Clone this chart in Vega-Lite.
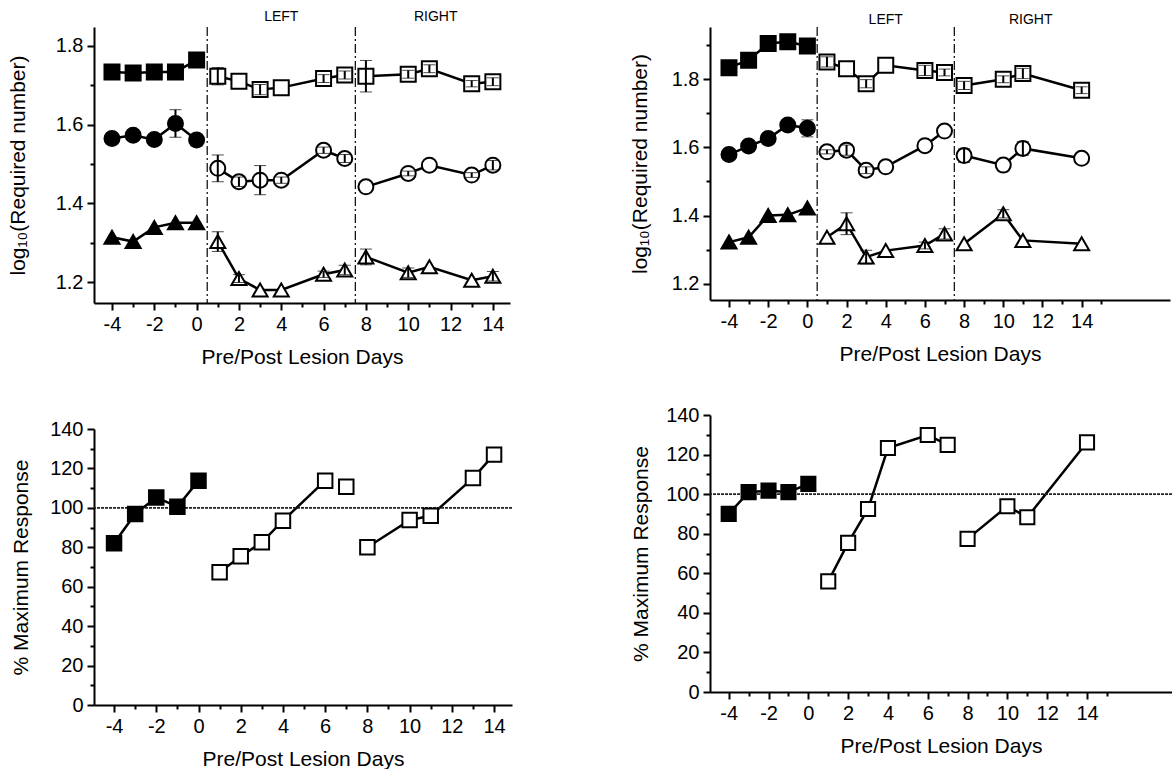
{
  "$schema": "https://vega.github.io/schema/vega-lite/v6.json",
  "background": "white",
  "padding": {"left": 7, "top": 10, "right": 0, "bottom": 0},
  "config": {
    "view": {"stroke": null},
    "font": "Liberation Sans",
    "axis": {
      "grid": false, "domainColor": "black", "domainWidth": 2, "tickColor": "black", "tickWidth": 2,
      "labelColor": "black", "labelFont": "Liberation Sans", "labelFontSize": 20, "labelOverlap": false, "labelFlush": false, "labelBound": false,
      "titleFont": "Liberation Sans", "titleFontSize": 21, "titleFontWeight": "normal", "titleColor": "black", "labelPadding": 4
    }
  },
  "datasets": {
    "seps": [{"x": 0.5}, {"x": 7.5}],
    "ref": [{"v": 100}],
    "tlLabels": [{"x": 4, "label": "LEFT"}, {"x": 11.3, "label": "RIGHT"}],
    "trLabels": [{"x": 4, "label": "LEFT"}, {"x": 11.4, "label": "RIGHT"}],
    "tl": [
      {"day": -4, "v": 1.734, "series": "sq", "phase": "pre", "seg": "pre"},
      {"day": -3, "v": 1.731, "series": "sq", "phase": "pre", "seg": "pre"},
      {"day": -2, "v": 1.734, "series": "sq", "phase": "pre", "seg": "pre"},
      {"day": -1, "v": 1.734, "series": "sq", "phase": "pre", "seg": "pre"},
      {"day": 0, "v": 1.764, "series": "sq", "phase": "pre", "seg": "pre"},
      {"day": 1, "v": 1.723, "series": "sq", "phase": "post", "seg": "left", "lo": 1.701, "hi": 1.745},
      {"day": 2, "v": 1.71, "series": "sq", "phase": "post", "seg": "left"},
      {"day": 3, "v": 1.689, "series": "sq", "phase": "post", "seg": "left", "lo": 1.676, "hi": 1.702},
      {"day": 4, "v": 1.694, "series": "sq", "phase": "post", "seg": "left"},
      {"day": 6, "v": 1.717, "series": "sq", "phase": "post", "seg": "left", "lo": 1.707, "hi": 1.727},
      {"day": 7, "v": 1.726, "series": "sq", "phase": "post", "seg": "left", "lo": 1.716, "hi": 1.736},
      {"day": 8, "v": 1.723, "series": "sq", "phase": "post", "seg": "right", "lo": 1.683, "hi": 1.763},
      {"day": 10, "v": 1.728, "series": "sq", "phase": "post", "seg": "right", "lo": 1.718, "hi": 1.738},
      {"day": 11, "v": 1.742, "series": "sq", "phase": "post", "seg": "right", "lo": 1.732, "hi": 1.752},
      {"day": 13, "v": 1.704, "series": "sq", "phase": "post", "seg": "right", "lo": 1.696, "hi": 1.712},
      {"day": 14, "v": 1.709, "series": "sq", "phase": "post", "seg": "right", "lo": 1.699, "hi": 1.719},
      {"day": -4, "v": 1.565, "series": "ci", "phase": "pre", "seg": "pre"},
      {"day": -3, "v": 1.573, "series": "ci", "phase": "pre", "seg": "pre"},
      {"day": -2, "v": 1.562, "series": "ci", "phase": "pre", "seg": "pre"},
      {"day": -1, "v": 1.603, "series": "ci", "phase": "pre", "seg": "pre", "lo": 1.568, "hi": 1.638},
      {"day": 0, "v": 1.561, "series": "ci", "phase": "pre", "seg": "pre", "lo": 1.546, "hi": 1.576},
      {"day": 1, "v": 1.489, "series": "ci", "phase": "post", "seg": "left", "lo": 1.455, "hi": 1.523},
      {"day": 2, "v": 1.455, "series": "ci", "phase": "post", "seg": "left", "lo": 1.443, "hi": 1.467},
      {"day": 3, "v": 1.459, "series": "ci", "phase": "post", "seg": "left", "lo": 1.422, "hi": 1.496},
      {"day": 4, "v": 1.459, "series": "ci", "phase": "post", "seg": "left", "lo": 1.451, "hi": 1.467},
      {"day": 6, "v": 1.535, "series": "ci", "phase": "post", "seg": "left", "lo": 1.527, "hi": 1.543},
      {"day": 7, "v": 1.514, "series": "ci", "phase": "post", "seg": "left", "lo": 1.504, "hi": 1.524},
      {"day": 8, "v": 1.442, "series": "ci", "phase": "post", "seg": "right"},
      {"day": 10, "v": 1.476, "series": "ci", "phase": "post", "seg": "right", "lo": 1.47, "hi": 1.482},
      {"day": 11, "v": 1.497, "series": "ci", "phase": "post", "seg": "right"},
      {"day": 13, "v": 1.472, "series": "ci", "phase": "post", "seg": "right", "lo": 1.466, "hi": 1.478},
      {"day": 14, "v": 1.497, "series": "ci", "phase": "post", "seg": "right", "lo": 1.485, "hi": 1.509},
      {"day": -4, "v": 1.314, "series": "tr", "phase": "pre", "seg": "pre"},
      {"day": -3, "v": 1.303, "series": "tr", "phase": "pre", "seg": "pre"},
      {"day": -2, "v": 1.339, "series": "tr", "phase": "pre", "seg": "pre"},
      {"day": -1, "v": 1.351, "series": "tr", "phase": "pre", "seg": "pre"},
      {"day": 0, "v": 1.351, "series": "tr", "phase": "pre", "seg": "pre"},
      {"day": 1, "v": 1.303, "series": "tr", "phase": "post", "seg": "left", "lo": 1.278, "hi": 1.328},
      {"day": 2, "v": 1.209, "series": "tr", "phase": "post", "seg": "left", "lo": 1.199, "hi": 1.219},
      {"day": 3, "v": 1.18, "series": "tr", "phase": "post", "seg": "left"},
      {"day": 4, "v": 1.18, "series": "tr", "phase": "post", "seg": "left"},
      {"day": 6, "v": 1.22, "series": "tr", "phase": "post", "seg": "left", "lo": 1.212, "hi": 1.228},
      {"day": 7, "v": 1.231, "series": "tr", "phase": "post", "seg": "left", "lo": 1.219, "hi": 1.243},
      {"day": 8, "v": 1.264, "series": "tr", "phase": "post", "seg": "right", "lo": 1.244, "hi": 1.284},
      {"day": 10, "v": 1.224, "series": "tr", "phase": "post", "seg": "right", "lo": 1.212, "hi": 1.236},
      {"day": 11, "v": 1.239, "series": "tr", "phase": "post", "seg": "right"},
      {"day": 13, "v": 1.205, "series": "tr", "phase": "post", "seg": "right"},
      {"day": 14, "v": 1.215, "series": "tr", "phase": "post", "seg": "right", "lo": 1.203, "hi": 1.227}
    ],
    "tr": [
      {"day": -4, "v": 1.834, "series": "sq", "phase": "pre", "seg": "pre", "lo": 1.814, "hi": 1.854},
      {"day": -3, "v": 1.856, "series": "sq", "phase": "pre", "seg": "pre"},
      {"day": -2, "v": 1.905, "series": "sq", "phase": "pre", "seg": "pre"},
      {"day": -1, "v": 1.91, "series": "sq", "phase": "pre", "seg": "pre", "lo": 1.895, "hi": 1.925},
      {"day": 0, "v": 1.898, "series": "sq", "phase": "pre", "seg": "pre"},
      {"day": 1, "v": 1.851, "series": "sq", "phase": "post", "seg": "left", "lo": 1.836, "hi": 1.866},
      {"day": 2, "v": 1.831, "series": "sq", "phase": "post", "seg": "left"},
      {"day": 3, "v": 1.787, "series": "sq", "phase": "post", "seg": "left", "lo": 1.775, "hi": 1.799},
      {"day": 4, "v": 1.841, "series": "sq", "phase": "post", "seg": "left"},
      {"day": 6, "v": 1.826, "series": "sq", "phase": "post", "seg": "left", "lo": 1.811, "hi": 1.841},
      {"day": 7, "v": 1.82, "series": "sq", "phase": "post", "seg": "left", "lo": 1.81, "hi": 1.83},
      {"day": 8, "v": 1.782, "series": "sq", "phase": "post", "seg": "right", "lo": 1.77, "hi": 1.794},
      {"day": 10, "v": 1.8, "series": "sq", "phase": "post", "seg": "right", "lo": 1.79, "hi": 1.81},
      {"day": 11, "v": 1.817, "series": "sq", "phase": "post", "seg": "right", "lo": 1.802, "hi": 1.832},
      {"day": 14, "v": 1.768, "series": "sq", "phase": "post", "seg": "right", "lo": 1.758, "hi": 1.778},
      {"day": -4, "v": 1.579, "series": "ci", "phase": "pre", "seg": "pre"},
      {"day": -3, "v": 1.604, "series": "ci", "phase": "pre", "seg": "pre"},
      {"day": -2, "v": 1.626, "series": "ci", "phase": "pre", "seg": "pre"},
      {"day": -1, "v": 1.666, "series": "ci", "phase": "pre", "seg": "pre", "lo": 1.651, "hi": 1.681},
      {"day": 0, "v": 1.656, "series": "ci", "phase": "pre", "seg": "pre", "lo": 1.631, "hi": 1.681},
      {"day": 1, "v": 1.587, "series": "ci", "phase": "post", "seg": "left", "lo": 1.581, "hi": 1.593},
      {"day": 2, "v": 1.592, "series": "ci", "phase": "post", "seg": "left", "lo": 1.577, "hi": 1.607},
      {"day": 3, "v": 1.533, "series": "ci", "phase": "post", "seg": "left", "lo": 1.523, "hi": 1.543},
      {"day": 4, "v": 1.543, "series": "ci", "phase": "post", "seg": "left"},
      {"day": 6, "v": 1.605, "series": "ci", "phase": "post", "seg": "left"},
      {"day": 7, "v": 1.648, "series": "ci", "phase": "post", "seg": "left"},
      {"day": 8, "v": 1.576, "series": "ci", "phase": "post", "seg": "right", "lo": 1.556, "hi": 1.596},
      {"day": 10, "v": 1.548, "series": "ci", "phase": "post", "seg": "right"},
      {"day": 11, "v": 1.597, "series": "ci", "phase": "post", "seg": "right", "lo": 1.577, "hi": 1.617},
      {"day": 14, "v": 1.568, "series": "ci", "phase": "post", "seg": "right"},
      {"day": -4, "v": 1.322, "series": "tr", "phase": "pre", "seg": "pre"},
      {"day": -3, "v": 1.336, "series": "tr", "phase": "pre", "seg": "pre"},
      {"day": -2, "v": 1.4, "series": "tr", "phase": "pre", "seg": "pre"},
      {"day": -1, "v": 1.402, "series": "tr", "phase": "pre", "seg": "pre"},
      {"day": 0, "v": 1.422, "series": "tr", "phase": "pre", "seg": "pre"},
      {"day": 1, "v": 1.336, "series": "tr", "phase": "post", "seg": "left"},
      {"day": 2, "v": 1.376, "series": "tr", "phase": "post", "seg": "left", "lo": 1.344, "hi": 1.408},
      {"day": 3, "v": 1.278, "series": "tr", "phase": "post", "seg": "left", "lo": 1.258, "hi": 1.298},
      {"day": 4, "v": 1.297, "series": "tr", "phase": "post", "seg": "left"},
      {"day": 6, "v": 1.312, "series": "tr", "phase": "post", "seg": "left", "lo": 1.302, "hi": 1.322},
      {"day": 7, "v": 1.346, "series": "tr", "phase": "post", "seg": "left", "lo": 1.331, "hi": 1.361},
      {"day": 8, "v": 1.317, "series": "tr", "phase": "post", "seg": "right"},
      {"day": 10, "v": 1.405, "series": "tr", "phase": "post", "seg": "right", "lo": 1.393, "hi": 1.417},
      {"day": 11, "v": 1.327, "series": "tr", "phase": "post", "seg": "right"},
      {"day": 14, "v": 1.317, "series": "tr", "phase": "post", "seg": "right"}
    ],
    "bl": [
      {"day": -4, "v": 82.0, "series": "sq", "phase": "pre", "seg": "pre"},
      {"day": -3, "v": 96.9, "series": "sq", "phase": "pre", "seg": "pre"},
      {"day": -2, "v": 105.3, "series": "sq", "phase": "pre", "seg": "pre"},
      {"day": -1, "v": 100.6, "series": "sq", "phase": "pre", "seg": "pre"},
      {"day": 0, "v": 113.8, "series": "sq", "phase": "pre", "seg": "pre"},
      {"day": 1, "v": 67.3, "series": "sq", "phase": "post", "seg": "left"},
      {"day": 2, "v": 75.4, "series": "sq", "phase": "post", "seg": "left"},
      {"day": 3, "v": 82.5, "series": "sq", "phase": "post", "seg": "left"},
      {"day": 4, "v": 93.5, "series": "sq", "phase": "post", "seg": "left"},
      {"day": 6, "v": 113.8, "series": "sq", "phase": "post", "seg": "left"},
      {"day": 7, "v": 110.7, "series": "sq", "phase": "post", "seg": "left7"},
      {"day": 8, "v": 80.0, "series": "sq", "phase": "post", "seg": "right"},
      {"day": 10, "v": 93.8, "series": "sq", "phase": "post", "seg": "right"},
      {"day": 11, "v": 96.0, "series": "sq", "phase": "post", "seg": "right"},
      {"day": 13, "v": 115.1, "series": "sq", "phase": "post", "seg": "right"},
      {"day": 14, "v": 127.0, "series": "sq", "phase": "post", "seg": "right"}
    ],
    "br": [
      {"day": -4, "v": 90.0, "series": "sq", "phase": "pre", "seg": "pre"},
      {"day": -3, "v": 101.0, "series": "sq", "phase": "pre", "seg": "pre"},
      {"day": -2, "v": 101.8, "series": "sq", "phase": "pre", "seg": "pre"},
      {"day": -1, "v": 101.0, "series": "sq", "phase": "pre", "seg": "pre"},
      {"day": 0, "v": 105.2, "series": "sq", "phase": "pre", "seg": "pre"},
      {"day": 1, "v": 55.9, "series": "sq", "phase": "post", "seg": "left"},
      {"day": 2, "v": 75.4, "series": "sq", "phase": "post", "seg": "left"},
      {"day": 3, "v": 92.5, "series": "sq", "phase": "post", "seg": "left"},
      {"day": 4, "v": 123.3, "series": "sq", "phase": "post", "seg": "left"},
      {"day": 6, "v": 129.9, "series": "sq", "phase": "post", "seg": "left"},
      {"day": 7, "v": 124.9, "series": "sq", "phase": "post", "seg": "left"},
      {"day": 8, "v": 77.4, "series": "sq", "phase": "post", "seg": "right"},
      {"day": 10, "v": 93.9, "series": "sq", "phase": "post", "seg": "right"},
      {"day": 11, "v": 88.3, "series": "sq", "phase": "post", "seg": "right"},
      {"day": 14, "v": 126.2, "series": "sq", "phase": "post", "seg": "right"}
    ]
  },
  "resolve": {"scale": {"x": "independent", "y": "independent"}},
  "spacing": 116,
  "hconcat": [
    {
      "spacing": 52,
      "resolve": {"scale": {"x": "independent", "y": "independent"}},
      "vconcat": [
        {
          "width": 416, "height": 276,
          "layer": [
            {
              "data": {"name": "seps"},
              "mark": {"type": "rule", "color": "black", "strokeWidth": 1.2, "strokeDash": [9, 3, 2, 3]},
              "encoding": {"x": {"field": "x", "type": "quantitative", "scale": {"domain": [-4.85, 14.81], "nice": false, "zero": false}}}
            },
            {
              "data": {"name": "tlLabels"},
              "mark": {"type": "text", "fontSize": 14, "font": "Liberation Sans", "color": "black"},
              "encoding": {
                "x": {"field": "x", "type": "quantitative", "scale": {"domain": [-4.85, 14.81], "nice": false, "zero": false}},
                "y": {"datum": 1.873, "type": "quantitative", "scale": {"domain": [1.147, 1.848], "nice": false, "zero": false}},
                "text": {"field": "label"}
              }
            },
            {
              "data": {"name": "tl"},
              "mark": {"type": "line", "color": "black", "strokeWidth": 2.5},
              "encoding": {
                "x": {"field": "day", "type": "quantitative", "scale": {"domain": [-4.85, 14.81], "nice": false, "zero": false},
                  "axis": {"title": "Pre/Post Lesion Days", "values": [-4,-3,-2,-1,0,1,2,3,4,5,6,7,8,9,10,11,12,13,14,15], "tickCount": 100, "labelOverlap": false,
                    "labelExpr": "datum.value % 2 === 0 ? '' + datum.value : ''",
                    "tickSize": {"condition": {"test": "datum.value % 2 === 0", "value": 7}, "value": 4}, "titlePadding": 12}},
                "y": {"field": "v", "type": "quantitative", "scale": {"domain": [1.147, 1.848], "nice": false, "zero": false},
                  "axis": {"title": "log₁₀(Required number)", "values": [1.2, 1.3, 1.4, 1.5, 1.6, 1.7, 1.8], "tickCount": 100, "labelOverlap": false,
                    "labelExpr": "round(datum.value * 10) % 2 === 0 ? format(datum.value, '.1f') : ''",
                    "tickSize": {"condition": {"test": "round(datum.value * 10) % 2 === 0", "value": 7}, "value": 4}, "titlePadding": 27}},
                "detail": [{"field": "series"}, {"field": "seg"}]
              }
            },
            {
              "data": {"name": "tl"},
              "mark": {"type": "point", "filled": false, "stroke": "black", "strokeWidth": 2, "opacity": 1, "size": 225},
              "encoding": {
                "x": {"field": "day", "type": "quantitative", "scale": {"domain": [-4.85, 14.81], "nice": false, "zero": false}},
                "y": {"field": "v", "type": "quantitative", "scale": {"domain": [1.147, 1.848], "nice": false, "zero": false}},
                "shape": {"field": "series", "type": "nominal", "scale": {"domain": ["sq", "ci", "tr"], "range": ["square", "circle", "triangle-up"]}, "legend": null},
                "fill": {"field": "phase", "type": "nominal", "scale": {"domain": ["pre", "post"], "range": ["black", "white"]}, "legend": null}
              }
            },
            {
              "data": {"name": "tl"},
              "transform": [{"filter": "isValid(datum.lo)"}],
              "mark": {"type": "errorbar", "ticks": {"size": 12, "strokeWidth": 2, "color": "black"}, "rule": {"strokeWidth": 2, "color": "black"}},
              "encoding": {
                "x": {"field": "day", "type": "quantitative", "scale": {"domain": [-4.85, 14.81], "nice": false, "zero": false}},
                "y": {"field": "lo", "type": "quantitative", "title": "log₁₀(Required number)", "scale": {"domain": [1.147, 1.848], "nice": false, "zero": false}},
                "y2": {"field": "hi"}
              }
            }
          ]
        },
        {
          "width": 418, "height": 276,
          "layer": [
            {
              "data": {"name": "bl"},
              "mark": {"type": "line", "color": "black", "strokeWidth": 2.5},
              "encoding": {
                "x": {"field": "day", "type": "quantitative", "scale": {"domain": [-4.95, 14.85], "nice": false, "zero": false},
                  "axis": {"title": "Pre/Post Lesion Days", "values": [-4,-3,-2,-1,0,1,2,3,4,5,6,7,8,9,10,11,12,13,14,15], "tickCount": 100, "labelOverlap": false,
                    "labelExpr": "datum.value % 2 === 0 ? '' + datum.value : ''",
                    "tickSize": {"condition": {"test": "datum.value % 2 === 0", "value": 7}, "value": 4}, "titlePadding": 12}},
                "y": {"field": "v", "type": "quantitative", "scale": {"domain": [0, 140], "nice": false},
                  "axis": {"title": "% Maximum Response", "values": [0,10,20,30,40,50,60,70,80,90,100,110,120,130,140], "tickCount": 100, "labelOverlap": false,
                    "labelExpr": "datum.value % 20 === 0 ? '' + datum.value : ''",
                    "tickSize": {"condition": {"test": "datum.value % 20 === 0", "value": 7}, "value": 4}, "titlePadding": 18}},
                "detail": [{"field": "series"}, {"field": "seg"}]
              }
            },
            {
              "data": {"name": "ref"},
              "mark": {"type": "rule", "color": "#222", "strokeWidth": 1.8, "strokeDash": [3, 1]},
              "encoding": {"y": {"field": "v", "type": "quantitative", "title": "% Maximum Response", "scale": {"domain": [0, 140], "nice": false}}}
            },
            {
              "data": {"name": "bl"},
              "mark": {"type": "point", "filled": false, "stroke": "black", "strokeWidth": 2, "opacity": 1, "size": 210, "shape": "square"},
              "encoding": {
                "x": {"field": "day", "type": "quantitative", "scale": {"domain": [-4.95, 14.85], "nice": false, "zero": false}},
                "y": {"field": "v", "type": "quantitative", "scale": {"domain": [0, 140], "nice": false}},
                "fill": {"field": "phase", "type": "nominal", "scale": {"domain": ["pre", "post"], "range": ["black", "white"]}, "legend": null}
              }
            }
          ]
        }
      ]
    },
    {
      "spacing": 41,
      "resolve": {"scale": {"x": "independent", "y": "independent"}},
      "vconcat": [
        {
          "width": 460, "height": 273,
          "layer": [
            {
              "data": {"name": "seps"},
              "mark": {"type": "rule", "color": "black", "strokeWidth": 1.2, "strokeDash": [9, 3, 2, 3]},
              "encoding": {"x": {"field": "x", "type": "quantitative", "scale": {"domain": [-4.97, 18.51], "nice": false, "zero": false}}}
            },
            {
              "data": {"name": "trLabels"},
              "mark": {"type": "text", "fontSize": 14, "font": "Liberation Sans", "color": "black"},
              "encoding": {
                "x": {"field": "x", "type": "quantitative", "scale": {"domain": [-4.97, 18.51], "nice": false, "zero": false}},
                "y": {"datum": 1.974, "type": "quantitative", "scale": {"domain": [1.152, 1.9535], "nice": false, "zero": false}},
                "text": {"field": "label"}
              }
            },
            {
              "data": {"name": "tr"},
              "mark": {"type": "line", "color": "black", "strokeWidth": 2.5},
              "encoding": {
                "x": {"field": "day", "type": "quantitative", "scale": {"domain": [-4.97, 18.51], "nice": false, "zero": false},
                  "axis": {"title": "Pre/Post Lesion Days", "values": [-4,-3,-2,-1,0,1,2,3,4,5,6,7,8,9,10,11,12,13,14,15], "tickCount": 100, "labelOverlap": false,
                    "labelExpr": "datum.value % 2 === 0 ? '' + datum.value : ''",
                    "tickSize": {"condition": {"test": "datum.value % 2 === 0", "value": 7}, "value": 4}, "titlePadding": 12}},
                "y": {"field": "v", "type": "quantitative", "scale": {"domain": [1.152, 1.9535], "nice": false, "zero": false},
                  "axis": {"title": "log₁₀(Required number)", "values": [1.2, 1.3, 1.4, 1.5, 1.6, 1.7, 1.8, 1.9], "tickCount": 100, "labelOverlap": false,
                    "labelExpr": "round(datum.value * 10) % 2 === 0 ? format(datum.value, '.1f') : ''",
                    "tickSize": {"condition": {"test": "round(datum.value * 10) % 2 === 0", "value": 7}, "value": 4}, "titlePadding": 21}},
                "detail": [{"field": "series"}, {"field": "seg"}]
              }
            },
            {
              "data": {"name": "tr"},
              "mark": {"type": "point", "filled": false, "stroke": "black", "strokeWidth": 2, "opacity": 1, "size": 225},
              "encoding": {
                "x": {"field": "day", "type": "quantitative", "scale": {"domain": [-4.97, 18.51], "nice": false, "zero": false}},
                "y": {"field": "v", "type": "quantitative", "scale": {"domain": [1.152, 1.9535], "nice": false, "zero": false}},
                "shape": {"field": "series", "type": "nominal", "scale": {"domain": ["sq", "ci", "tr"], "range": ["square", "circle", "triangle-up"]}, "legend": null},
                "fill": {"field": "phase", "type": "nominal", "scale": {"domain": ["pre", "post"], "range": ["black", "white"]}, "legend": null}
              }
            },
            {
              "data": {"name": "tr"},
              "transform": [{"filter": "isValid(datum.lo)"}],
              "mark": {"type": "errorbar", "ticks": {"size": 12, "strokeWidth": 2, "color": "black"}, "rule": {"strokeWidth": 2, "color": "black"}},
              "encoding": {
                "x": {"field": "day", "type": "quantitative", "scale": {"domain": [-4.97, 18.51], "nice": false, "zero": false}},
                "y": {"field": "lo", "type": "quantitative", "title": "log₁₀(Required number)", "scale": {"domain": [1.152, 1.9535], "nice": false, "zero": false}},
                "y2": {"field": "hi"}
              }
            }
          ]
        },
        {
          "width": 462, "height": 277,
          "layer": [
            {
              "data": {"name": "br"},
              "mark": {"type": "line", "color": "black", "strokeWidth": 2.5},
              "encoding": {
                "x": {"field": "day", "type": "quantitative", "scale": {"domain": [-4.94, 18.27], "nice": false, "zero": false},
                  "axis": {"title": "Pre/Post Lesion Days", "values": [-4,-3,-2,-1,0,1,2,3,4,5,6,7,8,9,10,11,12,13,14,15], "tickCount": 100, "labelOverlap": false,
                    "labelExpr": "datum.value % 2 === 0 ? '' + datum.value : ''",
                    "tickSize": {"condition": {"test": "datum.value % 2 === 0", "value": 7}, "value": 4}, "titlePadding": 12}},
                "y": {"field": "v", "type": "quantitative", "scale": {"domain": [0, 140], "nice": false},
                  "axis": {"title": "% Maximum Response", "values": [0,10,20,30,40,50,60,70,80,90,100,110,120,130,140], "tickCount": 100, "labelOverlap": false,
                    "labelExpr": "datum.value % 20 === 0 ? '' + datum.value : ''",
                    "tickSize": {"condition": {"test": "datum.value % 20 === 0", "value": 7}, "value": 4}, "titlePadding": 14}},
                "detail": [{"field": "series"}, {"field": "seg"}]
              }
            },
            {
              "data": {"name": "ref"},
              "mark": {"type": "rule", "color": "#222", "strokeWidth": 1.8, "strokeDash": [3, 1]},
              "encoding": {"y": {"field": "v", "type": "quantitative", "title": "% Maximum Response", "scale": {"domain": [0, 140], "nice": false}}}
            },
            {
              "data": {"name": "br"},
              "mark": {"type": "point", "filled": false, "stroke": "black", "strokeWidth": 2, "opacity": 1, "size": 200, "shape": "square"},
              "encoding": {
                "x": {"field": "day", "type": "quantitative", "scale": {"domain": [-4.94, 18.27], "nice": false, "zero": false}},
                "y": {"field": "v", "type": "quantitative", "scale": {"domain": [0, 140], "nice": false}},
                "fill": {"field": "phase", "type": "nominal", "scale": {"domain": ["pre", "post"], "range": ["black", "white"]}, "legend": null}
              }
            }
          ]
        }
      ]
    }
  ]
}
